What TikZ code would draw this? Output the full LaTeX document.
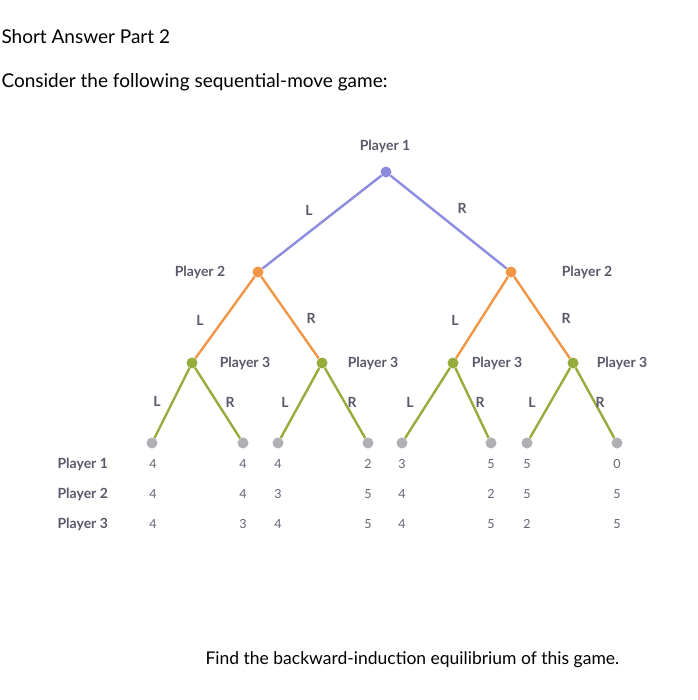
\documentclass[tikz,border=0pt]{standalone}
\usepackage{fontspec}
\setmainfont{Lato}
\definecolor{pur}{RGB}{140,140,222}
\definecolor{ora}{RGB}{240,150,70}
\definecolor{grn}{RGB}{150,172,60}
\definecolor{gry}{RGB}{175,175,180}
\definecolor{txt}{RGB}{60,60,80}
\begin{document}
\begin{tikzpicture}[x=1pt,y=-1pt,
  dot/.style={circle,fill=#1,inner sep=0pt,minimum size=11pt},
  lab/.style={font=\fontsize{14}{16}\selectfont\bfseries,text=txt!85},
  num/.style={font=\fontsize{12.5}{14}\selectfont,text=txt!80},
  pl/.style={line width=2.4pt,color=#1}]
\useasboundingbox (0,0) rectangle (697,700);
\node[anchor=west,font=\fontsize{19}{21}\selectfont] (t1) at (-2,37) {Short Answer Part 2};
\node[anchor=west,font=\fontsize{19}{21}\selectfont] (t2) at (-2,82) {Consider the following sequential-move game:};
\node[anchor=west,font=\fontsize{17.5}{20}\selectfont] (t3) at (202,660) {Find the backward-induction equilibrium of this game.};
% nodes
\node[dot=pur] (r) at (386,172) {};
\node[dot=ora] (a) at (258,272) {};
\node[dot=ora] (b) at (511,272) {};
\node[dot=grn] (c1) at (192,363) {};
\node[dot=grn] (c2) at (322,363) {};
\node[dot=grn] (c3) at (453,363) {};
\node[dot=grn] (c4) at (573,363) {};
\foreach \n/\x in {1/152,2/243,3/278,4/368,5/402,6/491,7/527,8/617}
  \node[dot=gry] (e\n) at (\x,443) {};
\draw[pl=pur] (r) -- (a); \draw[pl=pur] (r) -- (b);
\draw[pl=ora] (a) -- (c1); \draw[pl=ora] (a) -- (c2);
\draw[pl=ora] (b) -- (c3); \draw[pl=ora] (b) -- (c4);
\draw[pl=grn] (c1) -- (e1); \draw[pl=grn] (c1) -- (e2);
\draw[pl=grn] (c2) -- (e3); \draw[pl=grn] (c2) -- (e4);
\draw[pl=grn] (c3) -- (e5); \draw[pl=grn] (c3) -- (e6);
\draw[pl=grn] (c4) -- (e7); \draw[pl=grn] (c4) -- (e8);
% player labels
\node[lab] (p1) at (385,146) {Player 1};
\node[lab] (p2a) at (200,272) {Player 2};
\node[lab] (p2b) at (587,272) {Player 2};
\node[lab] (p3a) at (245,363) {Player 3};
\node[lab] (p3b) at (373,363) {Player 3};
\node[lab] (p3c) at (497,363) {Player 3};
\node[lab] (p3d) at (622,363) {Player 3};
% action labels
\foreach \x/\y/\t in {309/210/L,462/208/R,200/320/L,311/318/R,455/320/L,566/318/R,
  157/401/L,230/402/R,285/402/L,352/402/R,410/402/L,480/402/R,532/402/L,600/402/R}
  \node[lab] at (\x,\y) {\t};
% row labels
\node[lab,anchor=west] (q1) at (54,464) {Player 1};
\node[lab,anchor=west] (q2) at (54,494) {Player 2};
\node[lab,anchor=west] (q3) at (54,524) {Player 3};
\foreach \x/\a/\b/\c in {153/4/4/4,243/4/4/3,278/4/3/4,368/2/5/5,402/3/4/4,491/5/2/5,527/5/5/2,617/0/5/5}{
  \node[num] at (\x,464) {\a};
  \node[num] at (\x,494) {\b};
  \node[num] at (\x,524) {\c};}
\end{tikzpicture}
\end{document}
